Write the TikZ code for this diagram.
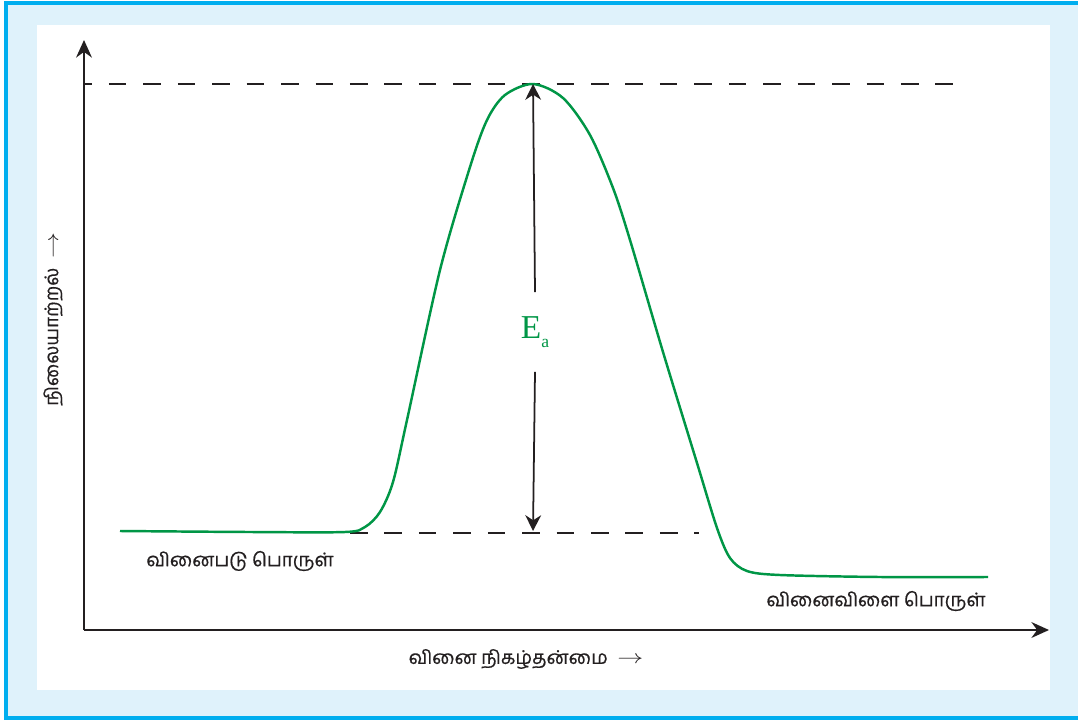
\documentclass[tikz,border=0pt]{standalone}
\usepackage{fontspec}
\usepackage{graphicx}
\usepackage{tikz}
\usetikzlibrary{arrows.meta,positioning,calc}
\newfontfamily\tamilfont[Script=Tamil,FakeBold=0.6]{Hind Madurai}
\newfontfamily\eafont{Liberation Serif}
\definecolor{framecyan}{RGB}{0,174,239}
\definecolor{panelblue}{RGB}{223,242,251}
\definecolor{curvegreen}{RGB}{0,150,70}
\definecolor{inkdark}{RGB}{35,31,32}
\newcommand{\axisarrow}{\scalebox{1.35}[1]{$\rightarrow$}}

\begin{document}
\begin{tikzpicture}[x=0.02cm,y=-0.02cm,
  axis/.style={inkdark,line width=1.1pt,-{Stealth[length=10pt,width=9pt]}},
  guide/.style={inkdark,line width=1.2pt,dash pattern=on 10pt off 9.6pt},
  dimarrow/.style={inkdark,line width=1pt,-{Stealth[length=9pt,width=9pt]}},
  curve/.style={curvegreen,line width=1.4pt},
  lbl/.style={font=\tamilfont\fontsize{10.7}{13}\selectfont,text=inkdark,inner sep=1pt}]
\useasboundingbox (0,0) rectangle (1078,723);
% frame and panel
\clip (0,0) rectangle (1078,723);
\fill[white] (0,0) rectangle (1078,723);
\draw[framecyan,line width=2.4pt,fill=panelblue] (6,3) rectangle (1100,718);
\fill[white] (37,25) rectangle (1050,690);
% axes
\coordinate (origin) at (84,630);
\coordinate (ytip) at (84,40);
\coordinate (xtip) at (1049,630);
\draw[axis] (origin) -- (ytip);
\draw[axis] (origin) -- (xtip);
% energy levels
\coordinate (peak) at (533,84);
\coordinate (base) at (533,531);
\coordinate (topleft) at (85,84);
\coordinate (topright) at (958,84);
\coordinate (baseleft) at (350,533);
\coordinate (baseright) at (699,533);
\draw[guide,dash phase=6pt] (topleft) -- (topright);
\draw[guide] (baseleft) -- (baseright);
% reaction profile
\draw[curve] plot[smooth,tension=0.5] coordinates {
  (120,531) (250,532) (345,532) (365,527) (380,512) (393,482) (407,420)
  (440,270) (470,167) (487,120) (505,95) (533,84) (563,98)
  (590,135) (613,188) (630,240) (663,352) (697,463) (717,528) (730,558)
  (747,571) (780,575) (880,577) (988,577)};
% activation energy
\node[text=curvegreen,minimum height=45pt,inner sep=0pt] (ea) at (535,332)
  {\eafont\fontsize{19}{20}\selectfont E\raisebox{-5pt}{\fontsize{10}{10}\selectfont a}};
\draw[dimarrow] (ea.north) -- (peak);
\draw[dimarrow] (ea.south) -- (base);
% labels
\node[lbl] (reactant) at (240,561) {வினைபடு பொருள்};
\node[lbl] (product) at (876,601) {வினைவிளை பொருள்};
\node[lbl] (xlabel) at (526,659) {வினை நிகழ்தன்மை\enspace\axisarrow};
\node[lbl,rotate=90] (ylabel) at (53,319) {நிலையாற்றல்\enspace\axisarrow};
\end{tikzpicture}
\end{document}
